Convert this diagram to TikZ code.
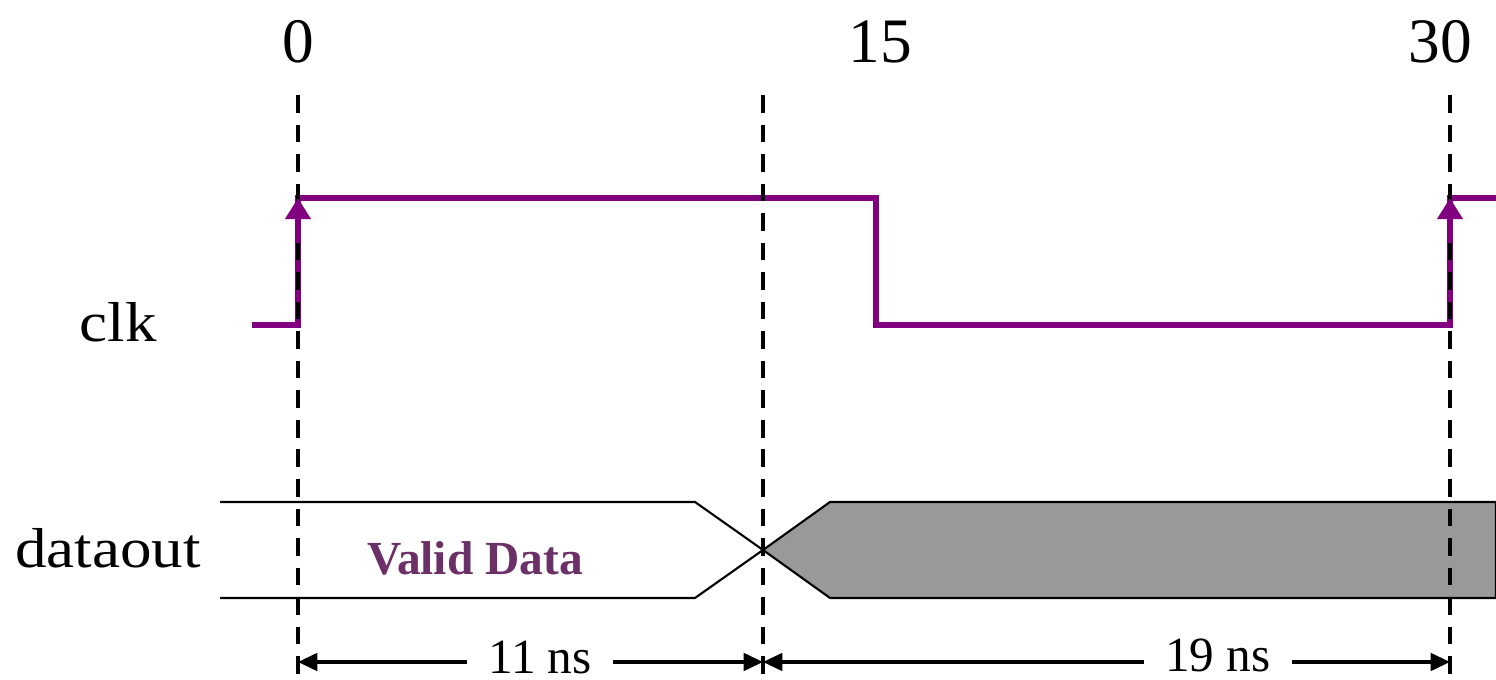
\documentclass[tikz,border=0pt]{standalone}
\usepackage{fontspec}
\setmainfont{Liberation Serif}
\usetikzlibrary{arrows.meta}

\definecolor{clkpurple}{RGB}{128,0,128}
\definecolor{validtext}{RGB}{107,48,104}
\definecolor{busgrey}{RGB}{153,153,153}

\tikzset{
  sig/.style={draw=clkpurple, line width=1.7pt},
  edgemark/.style={dashed, line width=1.1pt, dash pattern=on 5pt off 3.4pt},
  bus/.style={draw=black, line width=0.6pt},
  dim/.style={line width=0.9pt, {Triangle[length=5.5pt,width=5pt]}-{Triangle[length=5.5pt,width=5pt]}},
  tick/.style={font=\fontsize{18}{20}\selectfont},
  signame/.style={font=\fontsize{16}{18}\selectfont, xscale=1.12},
  dimtext/.style={font=\fontsize{14}{16}\selectfont, fill=white, inner sep=6pt}
}

\begin{document}
\begin{tikzpicture}[x=0.01cm,y=-0.01cm]
       \useasboundingbox (0,0) rectangle (1496,680);

       % time marks
       \node(T0)[tick] at (298,42) {0};
       \node(T15)[tick] at (880,42) {15};
       \node(T30)[tick] at (1440,42) {30};

       \node(CLK)[signame] at (118,322) {clk};
       \node(DOUT)[signame] at (108,548) {dataout};

       % clock wave
       \coordinate(C0) at (252,325);
       \coordinate(C1) at (298,325);
       \coordinate(C2) at (298,198);
       \coordinate(C3) at (876,198);
       \coordinate(C4) at (876,325);
       \coordinate(C5) at (1450,325);
       \coordinate(C6) at (1450,198);
       \coordinate(C7) at (1496,198);
       \draw[sig] (C0) -- (C1) -- (C2) -- (C3) -- (C4) -- (C5) -- (C6) -- (C7);

       % data bus
       \coordinate(D0) at (220,502);
       \coordinate(D1) at (695,502);
       \coordinate(X) at (763,550);
       \coordinate(D2) at (695,598);
       \coordinate(D3) at (220,598);
       \coordinate(G0) at (830,502);
       \coordinate(G1) at (1496,502);
       \coordinate(G2) at (1496,598);
       \coordinate(G3) at (830,598);
       \draw[bus] (D0) -- (D1) -- (X) -- (D2) -- (D3);
       \filldraw[bus, fill=busgrey] (X) -- (G0) -- (G1) -- (G2) -- (G3) -- cycle;
       \node(VD)[font=\fontsize{13.5}{15}\selectfont\bfseries, text=validtext] at (475,558) {Valid Data};

       % reference lines
       \coordinate(E0t) at (298,95);
       \coordinate(E0b) at (298,680);
       \coordinate(E1t) at (763,95);
       \coordinate(E1b) at (763,680);
       \coordinate(E2t) at (1450,95);
       \coordinate(E2b) at (1450,680);
       \draw[edgemark] (E0t) -- (E0b);
       \draw[edgemark] (E1t) -- (E1b);
       \draw[edgemark] (E2t) -- (E2b);

       % rising edge arrows
       \coordinate(A0) at (298,240);
       \coordinate(A1) at (1450,240);
       \draw[sig, -{Triangle[length=6pt,width=7pt]}] (A0) -- (C2);
       \draw[sig, -{Triangle[length=6pt,width=7pt]}] (A1) -- (C6);

       % timing
       \coordinate(M0) at (298,662);
       \coordinate(M1) at (763,662);
       \coordinate(M2) at (1450,662);
       \draw[dim] (M0) -- (M1);
       \draw[dim] (M1) -- (M2);
       \node(N11)[dimtext] at (540,657) {11 ns};
       \node(N19)[dimtext] at (1218,655) {19 ns};
      \end{tikzpicture}
\end{document}
